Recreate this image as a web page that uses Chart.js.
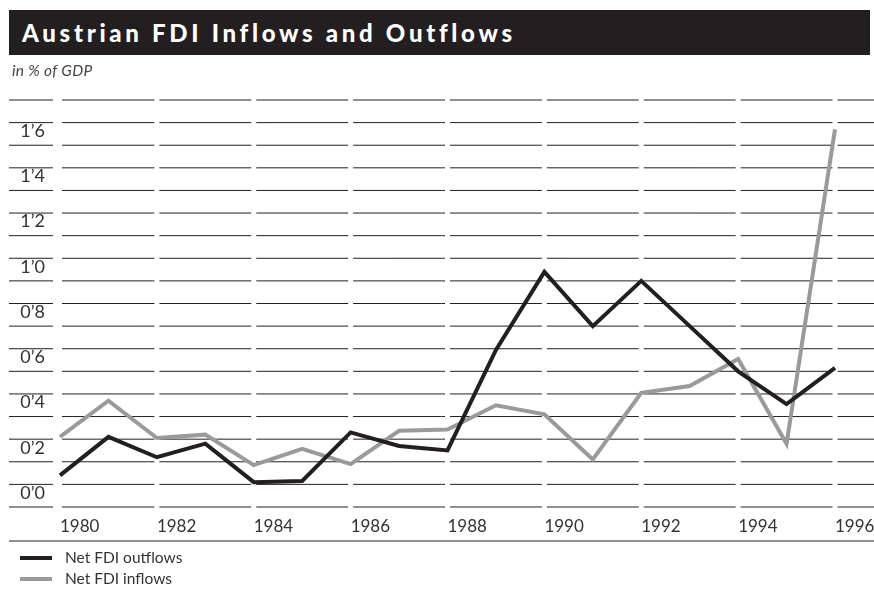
<!DOCTYPE html>
<html>
<head>
<meta charset="utf-8">
<script src="https://cdn.jsdelivr.net/npm/chart.js@4.4.1/dist/chart.umd.min.js"></script>
<style>
  body { margin: 0; background: #fff; }
  #wrap { position: relative; width: 874px; height: 590px; overflow: hidden; }
  #title {
    position: absolute; left: 9px; top: 10px; width: 861px; height: 45px;
    background: #231f20; color: #fff;
    font: 900 24px Lato, "DejaVu Sans", sans-serif; letter-spacing: 3.7px;
    line-height: 45px; padding-left: 13px; box-sizing: border-box;
  }
  #sub {
    position: absolute; left: 12px; top: 61px;
    font: italic 15.5px Lato, sans-serif; color: #444; letter-spacing: 0.3px;
  }
  .leg { position: absolute; left: 20px; font: 15.5px Lato, sans-serif; color: #333; }
  .leg span { display: inline-block; width: 32px; height: 4px; vertical-align: middle; margin-right: 13px; position: relative; top: -1px; }
  canvas { position: absolute; left: 0; top: 0; }
</style>
</head>
<body>
<div id="wrap">
  <canvas id="graf" width="874" height="590"></canvas>
  <div id="title">Austrian FDI Inflows and Outflows</div>
  <div id="sub">in % of GDP</div>
  <div class="leg" style="top:548px"><span style="background:#231f20"></span>Net FDI outflows</div>
  <div class="leg" style="top:569px"><span style="background:#9a9a9a"></span>Net FDI inflows</div>
</div>
<script>
let leta = [1980, 1981, 1982, 1983, 1984, 1985, 1986, 1987, 1988, 1989, 1990, 1991, 1992, 1993, 1994, 1995, 1996];
let odlivi = [0.14, 0.31, 0.22, 0.28, 0.11, 0.115, 0.33, 0.27, 0.25, 0.695, 1.04, 0.80, 1.0, 0.80, 0.60, 0.455, 0.615];
let prilivi = [0.31, 0.47, 0.305, 0.32, 0.185, 0.257, 0.19, 0.337, 0.343, 0.45, 0.41, 0.21, 0.505, 0.535, 0.655, 0.28, 1.67];
let yOznake = [0, 0.2, 0.4, 0.6, 0.8, 1.0, 1.2, 1.4, 1.6];

// horizontal rules broken by white gaps at every second year
const lomljenaMreza = {
	id: "lomljenaMreza",
	beforeDatasetsDraw(chart) {
		const { ctx, scales: { x, y } } = chart;
		ctx.save();
		ctx.strokeStyle = "#231f20";
		ctx.lineWidth = 1;
		y.ticks.forEach(t => {
			let py = y.getPixelForValue(t.value);
			ctx.beginPath();
			ctx.moveTo(9, py);
			ctx.lineTo(chart.width, py);
			ctx.stroke();
		});
		ctx.fillStyle = "#fff";
		x.ticks.forEach((t, i) => {
			let px = x.getPixelForValue(t.value);
			if (i == 0) ctx.fillRect(px - 7, y.top - 4, 9, y.bottom - y.top + 8);
			else ctx.fillRect(px - 2.5, y.top - 4, 5, y.bottom - y.top + 8);
		});
		ctx.lineWidth = 1.2;
		ctx.beginPath();
		ctx.moveTo(9, x.bottom);
		ctx.lineTo(chart.width, x.bottom);
		ctx.stroke();
		ctx.restore();
	}
};

let graf = new Chart("graf", {
	type: "line",
	data: {
		datasets: [{
			label: "Net FDI outflows",
			data: leta.map((l, i) => ({ x: l, y: odlivi[i] })),
			borderColor: "#231f20"
		},
		{
			label: "Net FDI inflows",
			data: leta.map((l, i) => ({ x: l, y: prilivi[i] })),
			borderColor: "#9a9a9a"
		}]
	},
	options: {
		responsive: false,
		animation: false,
		clip: false,
		layout: { padding: { left: 0, right: 39, top: 100, bottom: 49 } },
		elements: {
			line: { borderWidth: 4, tension: 0, borderJoinStyle: "miter", borderCapStyle: "butt" },
			point: { radius: 0 }
		},
		plugins: { legend: { display: false }, tooltip: { enabled: false } },
		scales: {
			x: {
				type: "linear",
				min: 1980, max: 1996,
				grid: { display: false, drawTicks: false },
				border: { display: false },
				ticks: {
					stepSize: 2, align: "start", padding: 9, color: "#333",
					font: { family: "Lato", size: 17 },
					callback: v => String(v)
				},
				afterFit: s => { s.height = 34; s.paddingLeft = 0; s.paddingRight = 0; }
			},
			y: {
				min: 0, max: 1.8,
				grid: { display: false, drawTicks: false },
				border: { display: false },
				ticks: {
					stepSize: 0.1, autoSkip: false, padding: 15, labelOffset: -14, color: "#333",
					font: { family: "Lato", size: 18 },
					callback: v => {
						let r = Math.round(v * 10) / 10;
						if (!yOznake.some(o => Math.abs(o - r) < 1e-6)) return "";
						return r.toFixed(1).replace(".", "\u2019");
					}
				},
				afterFit: s => { s.width = 60; s.paddingTop = 0; s.paddingBottom = 0; }
			}
		}
	},
	plugins: [lomljenaMreza]
});
</script>
</body>
</html>
